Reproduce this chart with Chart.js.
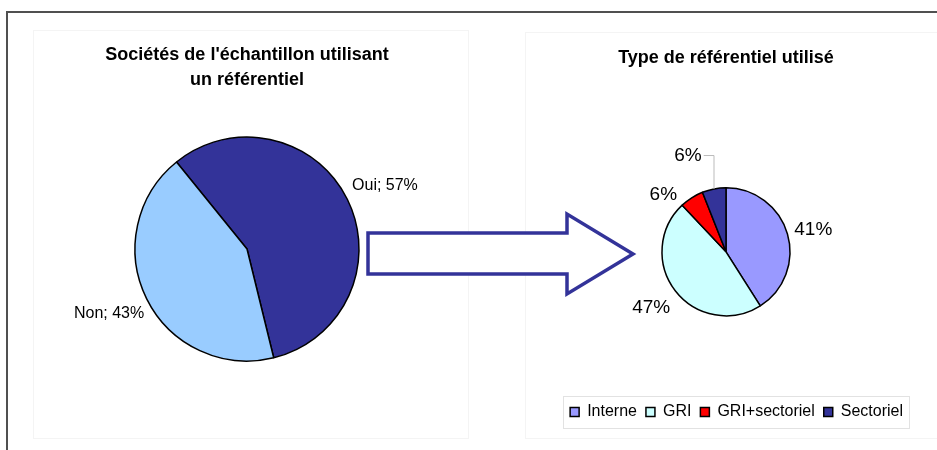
<!DOCTYPE html>
<html>
<head>
<meta charset="utf-8">
<script src="https://cdn.jsdelivr.net/npm/chart.js@4/dist/chart.umd.min.js"></script>
<style>
    body { margin: 0; background: #fff; }
    #wrap { position: relative; width: 937px; height: 450px; overflow: hidden; font-family: "Liberation Sans", Arial, sans-serif; }
    #frame { position: absolute; left: 6px; top: 11px; width: 940px; height: 450px; border-top: 2px solid #505050; border-left: 2px solid #505050; }
    .panel { position: absolute; border: 1px solid #f4f4f4; }
    canvas { position: absolute; top: 0; }
    #arrow { position: absolute; left: 0; top: 0; pointer-events: none; }
</style>
</head>
<body>
<div id="wrap">
    <div id="frame"></div>
    <div class="panel" style="left:33px;top:30px;width:434px;height:407px"></div>
    <div class="panel" style="left:525px;top:32px;width:420px;height:405px"></div>
    <canvas id="left" width="494" height="450" style="left:0"></canvas>
    <canvas id="right" width="437" height="450" style="left:500px"></canvas>
    <svg id="arrow" width="937" height="450">
        <polygon points="368,233 567,233 567,214 633,254 567,294 567,274 368,274" fill="#fff" stroke="#333399" stroke-width="3.5" stroke-linejoin="miter"/>
    </svg>
</div>
<script>
    const usageLabels = ['Oui', 'Non']
    const usageValues = [57, 43]
    const usageColors = ['#333399', '#99CCFF']

    const typeLabels = ['Interne', 'GRI', 'GRI+sectoriel', 'Sectoriel']
    const typeValues = [41, 47, 6, 6]
    const typeColors = ['#9999FF', '#CCFFFF', '#FF0000', '#333399']

    const FONT = '"Liberation Sans", Arial, sans-serif'
    Chart.defaults.font.family = FONT
    Chart.defaults.color = '#000'

    // value labels placed around each slice, from the arc elements
    const sliceLabels = {
        id: 'sliceLabels',
        afterDatasetsDraw(chart, args, opts) {
            const ctx = chart.ctx
            const meta = chart.getDatasetMeta(0)
            const values = chart.data.datasets[0].data
            ctx.save()
            ctx.font = opts.size + 'px ' + FONT
            ctx.fillStyle = '#000'
            ctx.textAlign = 'center'
            ctx.textBaseline = 'middle'
            meta.data.forEach((arc, i) => {
                const { x, y, startAngle, endAngle, outerRadius } = arc.getProps(['x', 'y', 'startAngle', 'endAngle', 'outerRadius'], true)
                const mid = (startAngle + endAngle) / 2
                const d = outerRadius * opts.dist
                const shift = opts.shifts[i] || [0, 0]
                const lx = x + Math.cos(mid) * d + shift[0]
                const ly = y + Math.sin(mid) * d + shift[1]
                const text = opts.withName ? chart.data.labels[i] + '; ' + values[i] + '%' : values[i] + '%'
                ctx.fillText(text, lx, ly)
                if (opts.leader === i) {
                    const w = ctx.measureText(text).width
                    const ex = x + Math.cos(mid) * outerRadius
                    const ey = y + Math.sin(mid) * outerRadius
                    ctx.strokeStyle = '#bbb'
                    ctx.lineWidth = 1
                    ctx.beginPath()
                    ctx.moveTo(lx + w / 2 + 2, ly)
                    ctx.lineTo(ex, ly)
                    ctx.lineTo(ex, ey)
                    ctx.stroke()
                }
            })
            ctx.restore()
        }
    }

    // thin frame round the legend items
    const legendFrame = {
        id: 'legendFrame',
        afterDraw(chart) {
            const lg = chart.legend
            if (!lg || !lg.options.display || !lg.legendHitBoxes.length) return
            const boxes = lg.legendHitBoxes
            const first = boxes[0]
            const last = boxes[boxes.length - 1]
            const ctx = chart.ctx
            ctx.save()
            ctx.strokeStyle = '#e2e2e2'
            ctx.lineWidth = 1
            ctx.strokeRect(Math.round(first.left - 7) + 0.5, Math.round(lg.top + 1) + 0.5,
                Math.round(last.left + last.width - first.left + 13), Math.round(lg.height - 3))
            ctx.restore()
        }
    }

    new Chart(document.getElementById('left').getContext('2d'), {
        type: 'pie',
        plugins: [sliceLabels],
        data: {
            labels: usageLabels,
            datasets: [{
                data: usageValues,
                backgroundColor: usageColors,
                borderColor: '#000',
                borderWidth: 1.5,
                radius: 112
            }]
        },
        options: {
            responsive: false,
            animation: false,
            rotation: -39,
            layout: { padding: { top: 0, left: 0, right: 0, bottom: 52 } },
            plugins: {
                legend: { display: false },
                tooltip: { enabled: false },
                title: {
                    display: true,
                    text: ["Sociétés de l'échantillon utilisant", 'un référentiel'],
                    color: '#000',
                    font: { size: 18, weight: 'bold', lineHeight: 1.39 },
                    padding: { top: 43, bottom: 7 }
                },
                sliceLabels: { size: 16, dist: 1.375, withName: true, shifts: [[0, 5], [0, -4]] }
            }
        }
    })

    new Chart(document.getElementById('right').getContext('2d'), {
        type: 'pie',
        plugins: [sliceLabels, legendFrame],
        data: {
            labels: typeLabels,
            datasets: [{
                data: typeValues,
                backgroundColor: typeColors,
                borderColor: '#000',
                borderWidth: 1.5,
                radius: 64
            }]
        },
        options: {
            responsive: false,
            animation: false,
            rotation: 0,
            layout: { padding: { top: 0, left: 40, right: 25, bottom: 20 } },
            plugins: {
                tooltip: { enabled: false },
                title: {
                    display: true,
                    text: 'Type de référentiel utilisé',
                    color: '#000',
                    font: { size: 18, weight: 'bold' },
                    padding: { top: 47, bottom: 40 }
                },
                legend: {
                    position: 'bottom',
                    align: 'end',
                    labels: {
                        boxWidth: 9,
                        boxHeight: 9,
                        padding: 9,
                        color: '#000',
                        font: { size: 16 }
                    }
                },
                sliceLabels: { size: 19, dist: 1.42, withName: false, leader: 3, shifts: [[0, 3], [-3, 0], [-14, 20], [-21, -7]] }
            }
        }
    })
</script>
</body>
</html>
